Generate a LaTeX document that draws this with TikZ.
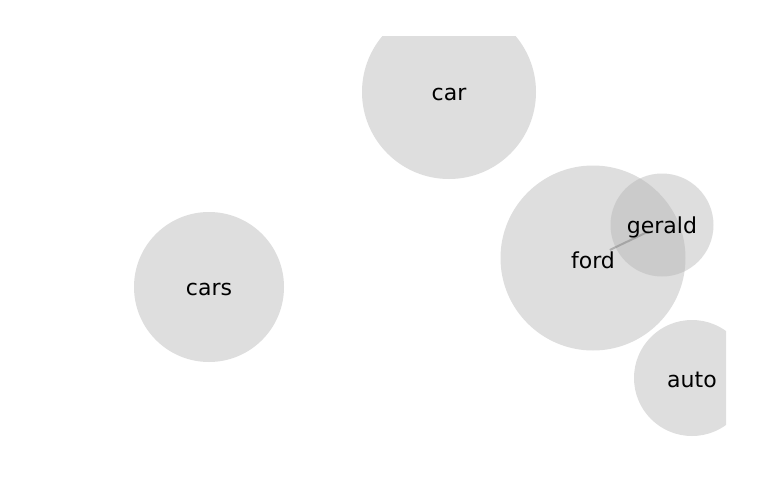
\documentclass[tikz,border=0pt]{standalone}
\usepackage{fontspec}
\setmainfont{DejaVu Sans}
\begin{document}
\begin{tikzpicture}[x=0.75pt,y=-0.75pt,
  blob/.style={circle,inner sep=0pt,fill=black!30,fill opacity=0.433,draw=none},
  word/.style={font=\fontsize{16.5pt}{18pt}\selectfont,text=black,inner sep=0pt,yshift=-1.5pt},
  link/.style={draw=gray,opacity=0.5,line width=1.5pt}]
\useasboundingbox (0,0) rectangle (769,500);
\begin{scope}
\clip (0,36) rectangle (726,500);
\node[blob,minimum size=130.5pt] (car) at (449,92) {};
\node[blob,minimum size=112.5pt] (cars) at (209,287) {};
\node[blob,minimum size=138.75pt] (ford) at (593,258) {};
\node[blob,minimum size=77.25pt] (gerald) at (662,225) {};
\node[blob,minimum size=87pt] (auto) at (692,378) {};
\draw[link,shorten <=14pt,shorten >=11pt] (ford.center) -- (gerald.center);
\node[word] (tcar) at (car.center) {car};
\node[word] (tcars) at (cars.center) {cars};
\node[word] (tford) at (ford.center) {ford};
\node[word] (tgerald) at (gerald.center) {gerald};
\node[word] (tauto) at (auto.center) {auto};
\end{scope}
\end{tikzpicture}
\end{document}
